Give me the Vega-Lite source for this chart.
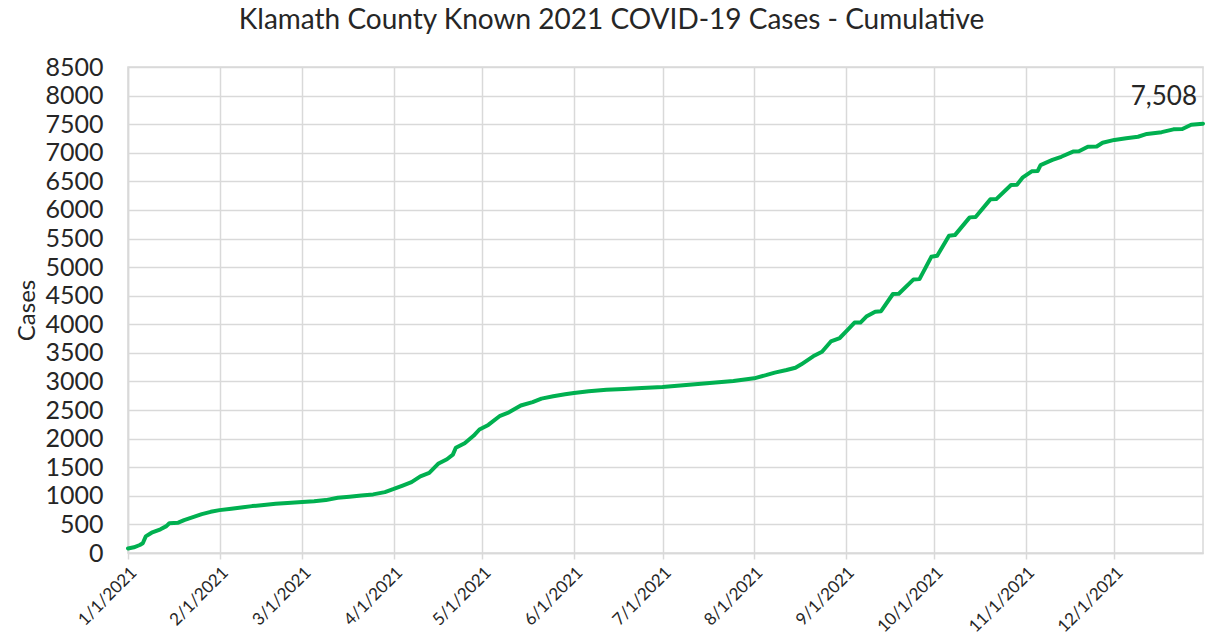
{
  "$schema": "https://vega.github.io/schema/vega-lite/v6.json",
  "width": 1075,
  "height": 486,
  "autosize": {"type": "none"},
  "padding": {"left": 128, "top": 67, "right": 12, "bottom": 87},
  "background": "white",
  "title": {
    "text": "Klamath County Known 2021 COVID-19 Cases - Cumulative",
    "font": "Lato",
    "fontSize": 28,
    "fontWeight": "normal",
    "color": "#262626",
    "anchor": "middle",
    "offset": 20,
    "dx": -54
  },
  "config": {
    "view": {"stroke": "#d9d9d9", "strokeWidth": 1.5},
    "axis": {"labelFont": "Lato", "titleFont": "Lato", "labelColor": "#262626", "titleColor": "#262626"}
  },
  "data": {
    "values": [
      {"date": "2021-01-01", "cases": 80},
      {"date": "2021-01-03", "cases": 100},
      {"date": "2021-01-05", "cases": 140},
      {"date": "2021-01-06", "cases": 170},
      {"date": "2021-01-07", "cases": 290},
      {"date": "2021-01-09", "cases": 355},
      {"date": "2021-01-12", "cases": 415},
      {"date": "2021-01-14", "cases": 470},
      {"date": "2021-01-15", "cases": 520},
      {"date": "2021-01-18", "cases": 530},
      {"date": "2021-01-20", "cases": 575},
      {"date": "2021-01-22", "cases": 610},
      {"date": "2021-01-26", "cases": 680},
      {"date": "2021-01-29", "cases": 720},
      {"date": "2021-02-01", "cases": 750},
      {"date": "2021-02-05", "cases": 775},
      {"date": "2021-02-09", "cases": 800},
      {"date": "2021-02-12", "cases": 820},
      {"date": "2021-02-16", "cases": 840},
      {"date": "2021-02-20", "cases": 860},
      {"date": "2021-02-24", "cases": 875},
      {"date": "2021-03-01", "cases": 890},
      {"date": "2021-03-05", "cases": 905},
      {"date": "2021-03-09", "cases": 925},
      {"date": "2021-03-13", "cases": 965},
      {"date": "2021-03-17", "cases": 985},
      {"date": "2021-03-21", "cases": 1005},
      {"date": "2021-03-25", "cases": 1025},
      {"date": "2021-03-29", "cases": 1065},
      {"date": "2021-04-01", "cases": 1120},
      {"date": "2021-04-04", "cases": 1180},
      {"date": "2021-04-07", "cases": 1240},
      {"date": "2021-04-10", "cases": 1340},
      {"date": "2021-04-13", "cases": 1400},
      {"date": "2021-04-16", "cases": 1560},
      {"date": "2021-04-19", "cases": 1640},
      {"date": "2021-04-21", "cases": 1720},
      {"date": "2021-04-22", "cases": 1840},
      {"date": "2021-04-25", "cases": 1920},
      {"date": "2021-04-28", "cases": 2050},
      {"date": "2021-04-30", "cases": 2160},
      {"date": "2021-05-03", "cases": 2240},
      {"date": "2021-05-07", "cases": 2400},
      {"date": "2021-05-10", "cases": 2460},
      {"date": "2021-05-14", "cases": 2580},
      {"date": "2021-05-18", "cases": 2640},
      {"date": "2021-05-21", "cases": 2700},
      {"date": "2021-05-25", "cases": 2740},
      {"date": "2021-05-29", "cases": 2775},
      {"date": "2021-06-01", "cases": 2800},
      {"date": "2021-06-06", "cases": 2830},
      {"date": "2021-06-12", "cases": 2855},
      {"date": "2021-06-18", "cases": 2870},
      {"date": "2021-06-24", "cases": 2885},
      {"date": "2021-07-01", "cases": 2905},
      {"date": "2021-07-07", "cases": 2930},
      {"date": "2021-07-13", "cases": 2955},
      {"date": "2021-07-19", "cases": 2980},
      {"date": "2021-07-25", "cases": 3010},
      {"date": "2021-08-01", "cases": 3055},
      {"date": "2021-08-05", "cases": 3110},
      {"date": "2021-08-08", "cases": 3155},
      {"date": "2021-08-12", "cases": 3200},
      {"date": "2021-08-15", "cases": 3240},
      {"date": "2021-08-17", "cases": 3300},
      {"date": "2021-08-21", "cases": 3440},
      {"date": "2021-08-24", "cases": 3520},
      {"date": "2021-08-27", "cases": 3700},
      {"date": "2021-08-30", "cases": 3760},
      {"date": "2021-09-02", "cases": 3920},
      {"date": "2021-09-04", "cases": 4030},
      {"date": "2021-09-06", "cases": 4030},
      {"date": "2021-09-08", "cases": 4135},
      {"date": "2021-09-11", "cases": 4220},
      {"date": "2021-09-13", "cases": 4230},
      {"date": "2021-09-17", "cases": 4530},
      {"date": "2021-09-19", "cases": 4535},
      {"date": "2021-09-24", "cases": 4785},
      {"date": "2021-09-26", "cases": 4790},
      {"date": "2021-09-30", "cases": 5180},
      {"date": "2021-10-02", "cases": 5200},
      {"date": "2021-10-06", "cases": 5550},
      {"date": "2021-10-08", "cases": 5560},
      {"date": "2021-10-13", "cases": 5870},
      {"date": "2021-10-15", "cases": 5875},
      {"date": "2021-10-20", "cases": 6185},
      {"date": "2021-10-22", "cases": 6190},
      {"date": "2021-10-27", "cases": 6435},
      {"date": "2021-10-29", "cases": 6440},
      {"date": "2021-10-31", "cases": 6570},
      {"date": "2021-11-03", "cases": 6675},
      {"date": "2021-11-05", "cases": 6680},
      {"date": "2021-11-06", "cases": 6785},
      {"date": "2021-11-10", "cases": 6875},
      {"date": "2021-11-13", "cases": 6930},
      {"date": "2021-11-17", "cases": 7020},
      {"date": "2021-11-19", "cases": 7025},
      {"date": "2021-11-22", "cases": 7105},
      {"date": "2021-11-25", "cases": 7110},
      {"date": "2021-11-27", "cases": 7175},
      {"date": "2021-12-01", "cases": 7225},
      {"date": "2021-12-05", "cases": 7255},
      {"date": "2021-12-09", "cases": 7280},
      {"date": "2021-12-12", "cases": 7330},
      {"date": "2021-12-17", "cases": 7360},
      {"date": "2021-12-21", "cases": 7410},
      {"date": "2021-12-24", "cases": 7415},
      {"date": "2021-12-27", "cases": 7490},
      {"date": "2021-12-31", "cases": 7508}
    ]
  },
  "encoding": {
    "x": {
      "field": "date",
      "type": "temporal",
      "scale": {
        "type": "utc",
        "domain": [
          {"year": 2021, "month": 1, "date": 1, "utc": true},
          {"year": 2021, "month": 12, "date": 31, "utc": true}
        ]
      },
      "axis": {
        "title": null,
        "format": "%-m/%-d/%Y",
        "values": [
          {"year": 2021, "month": 1, "date": 1, "utc": true},
          {"year": 2021, "month": 2, "date": 1, "utc": true},
          {"year": 2021, "month": 3, "date": 1, "utc": true},
          {"year": 2021, "month": 4, "date": 1, "utc": true},
          {"year": 2021, "month": 5, "date": 1, "utc": true},
          {"year": 2021, "month": 6, "date": 1, "utc": true},
          {"year": 2021, "month": 7, "date": 1, "utc": true},
          {"year": 2021, "month": 8, "date": 1, "utc": true},
          {"year": 2021, "month": 9, "date": 1, "utc": true},
          {"year": 2021, "month": 10, "date": 1, "utc": true},
          {"year": 2021, "month": 11, "date": 1, "utc": true},
          {"year": 2021, "month": 12, "date": 1, "utc": true}
        ],
        "labelAngle": -45,
        "labelFontSize": 17,
        "labelPadding": 5,
        "labelFlush": false,
        "labelOverlap": false,
        "grid": true,
        "gridColor": "#d9d9d9",
        "gridWidth": 1.5,
        "ticks": true,
        "tickSize": 6,
        "tickColor": "#d9d9d9",
        "tickWidth": 1.5,
        "domainColor": "#d9d9d9",
        "domainWidth": 1.5
      }
    },
    "y": {
      "field": "cases",
      "type": "quantitative",
      "scale": {"domain": [0, 8500], "nice": false},
      "axis": {
        "title": "Cases",
        "titleFontSize": 24,
        "titleFontWeight": "normal",
        "titlePadding": 5,
        "values": [0, 500, 1000, 1500, 2000, 2500, 3000, 3500, 4000, 4500, 5000, 5500, 6000, 6500, 7000, 7500, 8000, 8500],
        "format": "d",
        "labelFontSize": 25,
        "labelPadding": 25,
        "ticks": false,
        "grid": true,
        "gridColor": "#d9d9d9",
        "gridWidth": 1.5,
        "domainColor": "#d9d9d9",
        "domainWidth": 1.5
      }
    }
  },
  "layer": [
    {
      "mark": {"type": "line", "color": "#00B050", "strokeWidth": 4, "strokeCap": "round", "strokeJoin": "round"}
    },
    {
      "transform": [{"filter": {"field": "cases", "equal": 7508}}],
      "mark": {"type": "text", "font": "Lato", "fontSize": 26, "color": "#262626", "align": "right", "baseline": "middle", "dx": -6, "dy": -27},
      "encoding": {
        "text": {"field": "cases", "type": "quantitative", "format": ","}
      }
    }
  ]
}
